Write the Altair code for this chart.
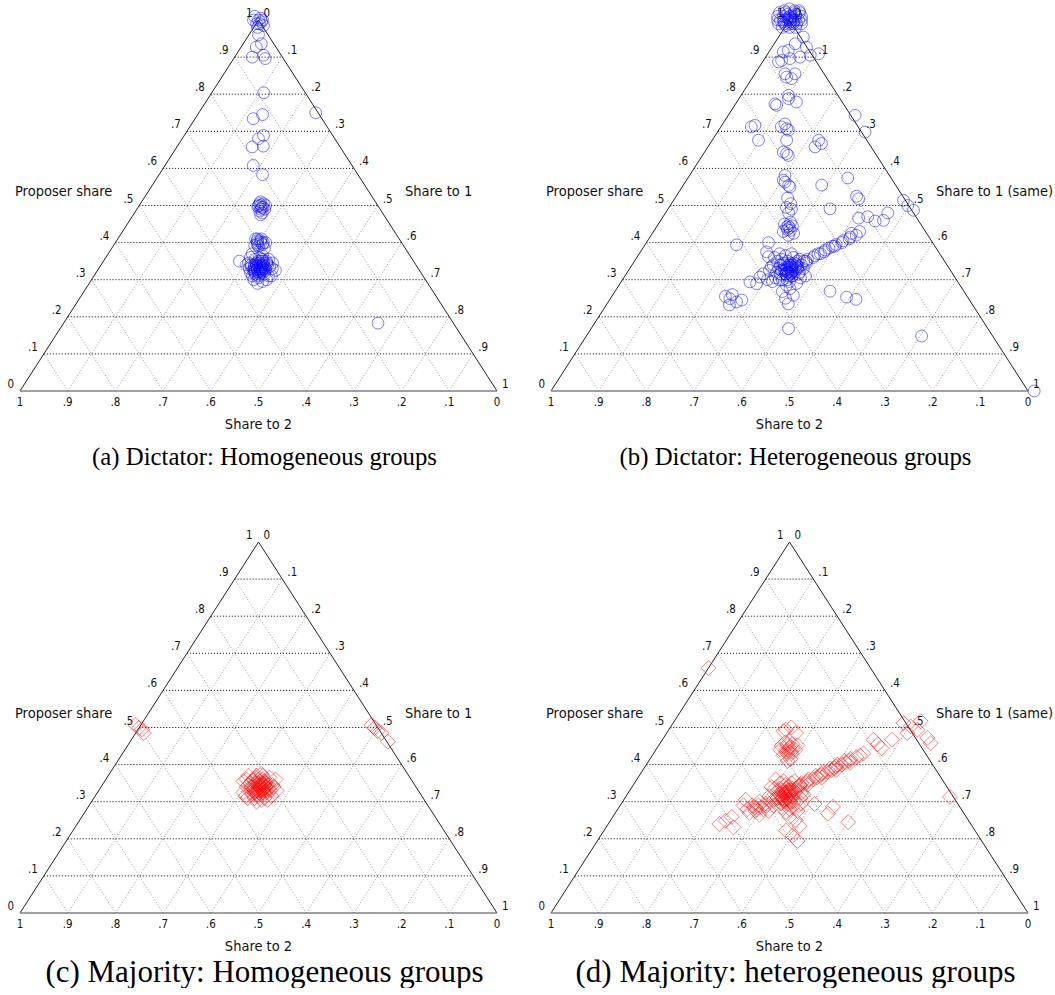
import altair as alt
import pandas as pd

# ---------------- values ----------------
STEPS = [0.1, 0.2, 0.3, 0.4, 0.5, 0.6, 0.7, 0.8, 0.9]
LABEL_VALUES = [0.0, 0.1, 0.2, 0.3, 0.4, 0.5, 0.6, 0.7, 0.8, 0.9, 1.0]
LABEL_TEXT = ["0", ".1", ".2", ".3", ".4", ".5", ".6", ".7", ".8", ".9", "1"]

LEFT_TITLE = "Proposer share"
BOTTOM_TITLE = "Share to 2"
RIGHT_TITLES = ["Share to 1", "Share to 1 (same)", "Share to 1", "Share to 1 (same)"]
CAPTIONS = [
    "(a) Dictator: Homogeneous groups",
    "(b) Dictator: Heterogeneous groups",
    "(c) Majority: Homogeneous groups",
    "(d) Majority: heterogeneous groups",
]

# (proposer share, share to 1) for every observation
dictator_homog = [
    (1.01, -0.013), (1.0, 0.0), (1.0, -0.0105), (0.995, 0.009), (0.99, 0.001), (0.985, 0.018),
    (1.005, 0.002), (0.98, 0.008), (0.99, 0.007), (1.0, 0.0084),
    (0.96, 0.02), (0.936, 0.038), (0.927, 0.032), (0.90, 0.037), (0.905, 0.058), (0.896, 0.066),
    (0.804, 0.109), (0.745, 0.136), (0.734, 0.122), (0.689, 0.166), (0.68, 0.16), (0.658, 0.158),
    (0.66, 0.18), (0.608, 0.185), (0.583, 0.217), (0.75, 0.245), (0.183, 0.659),
    (0.51, 0.249), (0.505, 0.258), (0.50, 0.25), (0.495, 0.259), (0.49, 0.268), (0.485, 0.26),
    (0.48, 0.268), (0.475, 0.267), (0.50, 0.265), (0.497, 0.25),
    (0.50, 0.255), (0.495, 0.262), (0.505, 0.25), (0.49, 0.26),
    (0.41, 0.289), (0.405, 0.302), (0.40, 0.298), (0.395, 0.311), (0.40, 0.315), (0.39, 0.305),
    (0.41, 0.301), (0.385, 0.32), (0.392, 0.296),
    (0.40, 0.305), (0.405, 0.295), (0.395, 0.30), (0.41, 0.293), (0.40, 0.31),
    (0.35, 0.285), (0.345, 0.3065), (0.34, 0.315), (0.335, 0.324), (0.33, 0.333), (0.34, 0.334),
    (0.345, 0.338), (0.35, 0.342), (0.335, 0.356), (0.33, 0.364), (0.325, 0.373), (0.32, 0.323),
    (0.315, 0.336), (0.32, 0.346), (0.325, 0.352), (0.31, 0.366), (0.305, 0.3475), (0.30, 0.34),
    (0.295, 0.361), (0.29, 0.353), (0.355, 0.316), (0.36, 0.322), (0.365, 0.326), (0.37, 0.302),
    (0.355, 0.344), (0.35, 0.325), (0.345, 0.323), (0.34, 0.305), (0.33, 0.316), (0.325, 0.327),
    (0.32, 0.34), (0.335, 0.345), (0.34, 0.349), (0.33, 0.341), (0.325, 0.34), (0.315, 0.355),
    (0.31, 0.332), (0.31, 0.372), (0.345, 0.357), (0.36, 0.303), (0.30, 0.367), (0.34, 0.322),
    (0.33, 0.35), (0.335, 0.318), (0.35, 0.331),
    (0.335, 0.335), (0.34, 0.34), (0.33, 0.338), (0.325, 0.335), (0.345, 0.33), (0.335, 0.328),
    (0.32, 0.332), (0.33, 0.345), (0.34, 0.326), (0.325, 0.345), (0.315, 0.345), (0.35, 0.335),
    (0.33, 0.326), (0.34, 0.338), (0.325, 0.33), (0.335, 0.34), (0.32, 0.35), (0.345, 0.345),
    (0.31, 0.345), (0.355, 0.33),
]

dictator_heter = [
    (1.02, -0.031), (1.025, -0.023), (1.03, -0.015), (1.025, -0.002), (1.02, 0.011), (1.01, -0.03),
    (1.01, -0.018), (1.01, -0.005), (1.01, 0.008), (1.01, 0.02), (1.0, -0.019), (1.0, -0.0063),
    (1.0, 0.0063), (1.0, 0.019), (0.99, -0.018), (0.99, -0.0055), (0.99, 0.007), (0.99, 0.02),
    (0.99, 0.03), (0.98, -0.005), (0.98, 0.01), (0.98, 0.023), (1.0, 0.0), (1.015, -0.012),
    (0.995, 0.011),
    (1.0, -0.012), (1.005, 0.0), (1.0, 0.012), (0.995, -0.01), (1.01, 0.0), (1.02, 0.0),
    (0.995, 0.004), (1.005, -0.006), (1.015, 0.005), (0.99, 0.013), (1.02, -0.018), (1.0, 0.025),
    (1.0, -0.025), (1.025, 0.008), (0.985, 0.0),
    (0.954, 0.052), (0.936, 0.044), (0.918, 0.0385), (0.914, 0.03), (0.891, 0.038), (0.896, 0.053),
    (0.90, 0.072), (0.905, 0.091), (0.909, 0.1065), (0.927, 0.072), (0.887, 0.0335), (0.855, 0.063),
    (0.855, 0.084), (0.842, 0.083), (0.846, 0.071), (0.797, 0.0995), (0.788, 0.104), (0.779, 0.125),
    (0.774, 0.0825), (0.77, 0.088), (0.72, 0.1305), (0.707, 0.1405), (0.712, 0.127), (0.703, 0.1465),
    (0.712, 0.064), (0.716, 0.0695), (0.676, 0.097), (0.676, 0.156), (0.644, 0.165), (0.635, 0.18),
    (0.64, 0.174), (0.676, 0.223), (0.667, 0.2335), (0.658, 0.2245), (0.743, 0.266), (0.698, 0.3095),
    (0.574, 0.335), (0.518, 0.386), (0.514, 0.482), (0.581, 0.2), (0.568, 0.203), (0.554, 0.221),
    (0.563, 0.209), (0.55, 0.226), (0.555, 0.29),
    (0.52, 0.236), (0.505, 0.25), (0.495, 0.246), (0.49, 0.259), (0.48, 0.258),
    (0.442, 0.273), (0.433, 0.285), (0.42, 0.288), (0.45, 0.2645), (0.445, 0.2835), (0.43, 0.272),
    (0.425, 0.296), (0.455, 0.2745), (0.44, 0.28), (0.435, 0.278), (0.445, 0.275),
    (0.491, 0.3395), (0.466, 0.412), (0.458, 0.4505), (0.46, 0.467), (0.487, 0.5165), (0.50, 0.498),
    (0.47, 0.429), (0.48, 0.466), (0.525, 0.378), (0.425, 0.4175), (0.43, 0.432),
    (0.34, 0.345), (0.35, 0.355), (0.355, 0.36), (0.36, 0.37), (0.365, 0.37), (0.37, 0.375),
    (0.375, 0.385), (0.38, 0.385), (0.385, 0.39), (0.39, 0.40), (0.395, 0.40), (0.40, 0.41),
    (0.405, 0.41), (0.41, 0.42), (0.415, 0.42), (0.42, 0.43), (0.35, 0.36), (0.37, 0.38),
    (0.39, 0.395),
    (0.36, 0.2885), (0.355, 0.306), (0.35, 0.321), (0.345, 0.338), (0.34, 0.355), (0.335, 0.2945),
    (0.33, 0.312), (0.325, 0.327), (0.32, 0.344), (0.315, 0.3615), (0.31, 0.3786), (0.305, 0.318),
    (0.30, 0.335), (0.295, 0.3525), (0.29, 0.37), (0.285, 0.351), (0.36, 0.328), (0.355, 0.3435),
    (0.35, 0.30), (0.345, 0.315), (0.34, 0.33), (0.335, 0.345), (0.33, 0.364), (0.325, 0.2955),
    (0.32, 0.313), (0.315, 0.334), (0.31, 0.351), (0.305, 0.3705), (0.30, 0.329), (0.295, 0.3168),
    (0.34, 0.311), (0.33, 0.329), (0.325, 0.3455), (0.32, 0.361), (0.345, 0.363), (0.335, 0.3345),
    (0.315, 0.3235), (0.31, 0.341), (0.35, 0.342), (0.365, 0.309), (0.37, 0.319), (0.33, 0.352),
    (0.325, 0.3207), (0.34, 0.296), (0.32, 0.338),
    (0.33, 0.335), (0.335, 0.33), (0.325, 0.34), (0.32, 0.345), (0.34, 0.335), (0.33, 0.34),
    (0.315, 0.345), (0.325, 0.33), (0.335, 0.338), (0.32, 0.335), (0.31, 0.35), (0.345, 0.33),
    (0.33, 0.325), (0.34, 0.32), (0.315, 0.335), (0.30, 0.345), (0.325, 0.35), (0.335, 0.35),
    (0.276, 0.363), (0.258, 0.379), (0.235, 0.38), (0.25, 0.3666), (0.268, 0.351), (0.168, 0.414),
    (0.269, 0.4505), (0.253, 0.493), (0.247, 0.516), (0.148, 0.703), (0.0, 1.013),
    (0.249, 0.2505), (0.24, 0.269), (0.255, 0.2381), (0.26, 0.25), (0.245, 0.2775), (0.232, 0.258),
    (0.294, 0.27), (0.289, 0.2865), (0.307, 0.2845), (0.316, 0.2874), (0.30, 0.304),
    (0.394, 0.192), (0.40, 0.256), (0.375, 0.2645), (0.362, 0.275), (0.37, 0.294),
]

majority_homog = [
    (0.507, -0.012), (0.485, 0.017), (0.499, 0.0), (0.495, 0.008),
    (0.499, 0.494), (0.485, 0.515), (0.462, 0.54), (0.507, 0.484), (0.49, 0.505),
    (0.37, 0.294), (0.365, 0.3115), (0.37, 0.3234), (0.365, 0.3405), (0.36, 0.3557), (0.355, 0.291),
    (0.355, 0.3078), (0.35, 0.325), (0.35, 0.3397), (0.345, 0.3569), (0.34, 0.305), (0.34, 0.3216),
    (0.335, 0.3388), (0.335, 0.3535), (0.33, 0.3728), (0.325, 0.306), (0.325, 0.3207), (0.32, 0.338),
    (0.32, 0.3526), (0.315, 0.3695), (0.31, 0.322), (0.31, 0.3366), (0.305, 0.3535), (0.305, 0.3665),
    (0.36, 0.295), (0.345, 0.3065), (0.33, 0.3224), (0.33, 0.337), (0.345, 0.3315), (0.36, 0.3284),
    (0.36, 0.3095), (0.315, 0.3155), (0.325, 0.3543), (0.34, 0.3615), (0.35, 0.319), (0.32, 0.3274),
    (0.315, 0.3425), (0.355, 0.3393), (0.37, 0.311), (0.34, 0.3447), (0.33, 0.36), (0.35, 0.3082),
    (0.31, 0.3576), (0.375, 0.3185), (0.30, 0.346),
    (0.34, 0.33), (0.335, 0.333), (0.33, 0.335), (0.345, 0.33), (0.34, 0.335), (0.325, 0.338),
    (0.35, 0.33), (0.335, 0.325), (0.33, 0.345), (0.345, 0.34), (0.32, 0.345), (0.355, 0.325),
    (0.34, 0.345), (0.325, 0.33), (0.33, 0.328), (0.35, 0.335), (0.335, 0.342), (0.345, 0.325),
    (0.32, 0.335), (0.36, 0.32), (0.355, 0.335), (0.33, 0.352), (0.34, 0.315), (0.325, 0.348),
    (0.345, 0.348),
]

majority_heter = [
    (0.66, 0.0),
    (0.494, 0.2454), (0.485, 0.271), (0.50, 0.254), (0.49, 0.2424),
    (0.46, 0.2616), (0.455, 0.2785), (0.45, 0.258), (0.445, 0.2775), (0.44, 0.2926), (0.435, 0.2765),
    (0.43, 0.289), (0.425, 0.275), (0.415, 0.2945), (0.41, 0.291), (0.44, 0.261), (0.452, 0.2908),
    (0.445, 0.283), (0.44, 0.275), (0.45, 0.27), (0.435, 0.285), (0.455, 0.268), (0.43, 0.28),
    (0.32, 0.33), (0.325, 0.335), (0.33, 0.34), (0.335, 0.345), (0.34, 0.35), (0.345, 0.35),
    (0.35, 0.36), (0.355, 0.36), (0.36, 0.37), (0.365, 0.375), (0.37, 0.38), (0.375, 0.38),
    (0.38, 0.39), (0.385, 0.395), (0.39, 0.40), (0.395, 0.40), (0.40, 0.41), (0.405, 0.415),
    (0.41, 0.42), (0.415, 0.42), (0.42, 0.43), (0.425, 0.435), (0.43, 0.44), (0.35, 0.35),
    (0.36, 0.36), (0.37, 0.37), (0.38, 0.38), (0.39, 0.39), (0.40, 0.40), (0.41, 0.41),
    (0.345, 0.365), (0.365, 0.385), (0.385, 0.405), (0.405, 0.425),
    (0.467, 0.4425), (0.444, 0.471), (0.467, 0.4815), (0.455, 0.4575),
    (0.512, 0.483), (0.503, 0.5025), (0.494, 0.521), (0.485, 0.5045), (0.472, 0.553), (0.458, 0.567),
    (0.517, 0.5165), (0.313, 0.68),
    (0.29, 0.277), (0.30, 0.287), (0.285, 0.2985), (0.28, 0.272), (0.275, 0.291), (0.27, 0.281),
    (0.295, 0.3025), (0.305, 0.2555), (0.265, 0.3045), (0.28, 0.3054), (0.29, 0.2584), (0.275, 0.3185),
    (0.285, 0.285), (0.28, 0.29), (0.29, 0.29),
    (0.249, 0.2415), (0.259, 0.2495), (0.231, 0.267), (0.24, 0.233),
    (0.272, 0.3566), (0.259, 0.3705), (0.235, 0.4035), (0.222, 0.3816), (0.208, 0.402), (0.194, 0.4198),
    (0.25, 0.3876),
    (0.294, 0.4055), (0.286, 0.448), (0.268, 0.447), (0.245, 0.5005),
    (0.36, 0.291), (0.355, 0.31), (0.35, 0.329), (0.345, 0.3485), (0.34, 0.292), (0.335, 0.3115),
    (0.33, 0.331), (0.325, 0.35), (0.32, 0.369), (0.315, 0.3005), (0.31, 0.32), (0.305, 0.339),
    (0.30, 0.3584), (0.295, 0.3775), (0.29, 0.3214), (0.285, 0.3407), (0.28, 0.36), (0.275, 0.3793),
    (0.35, 0.306), (0.34, 0.328), (0.33, 0.3497), (0.32, 0.3085), (0.31, 0.3303), (0.30, 0.352),
    (0.29, 0.374), (0.325, 0.327), (0.315, 0.3485), (0.345, 0.3191), (0.335, 0.3385), (0.305, 0.3139),
    (0.295, 0.3465), (0.355, 0.333), (0.32, 0.34), (0.31, 0.368), (0.285, 0.3635), (0.335, 0.301),
    (0.30, 0.329), (0.325, 0.3625), (0.29, 0.305),
    (0.32, 0.33), (0.315, 0.335), (0.31, 0.34), (0.325, 0.325), (0.32, 0.34), (0.305, 0.345),
    (0.315, 0.325), (0.33, 0.32), (0.31, 0.33), (0.30, 0.34), (0.325, 0.33), (0.32, 0.32),
    (0.315, 0.345), (0.31, 0.32), (0.335, 0.325), (0.305, 0.335), (0.30, 0.35), (0.33, 0.335),
    (0.295, 0.335), (0.325, 0.34),
]

# ---------------- layout / style ----------------
W, H = 477, 371
XS = alt.Scale(domain=[0, 1], nice=False, zero=False)
YS = alt.Scale(domain=[0, 1], nice=False, zero=False)
SANS = "DejaVu Sans Condensed, Liberation Sans, sans-serif"
SERIF = "Liberation Serif"

TERN_X = "datum.s1 + datum.p / 2"


def tern_xy(chart):
    return chart.transform_calculate(x=TERN_X, y="datum.p")


# grid lines, in ternary coordinates (p, s1) -> (p2, s1b)
horiz = pd.DataFrame({"p": STEPS, "s1": [0.0] * 9, "p2": STEPS, "s1b": [1 - k for k in STEPS]})
diag = pd.DataFrame(
    {"p": [0.0] * 18,
     "s1": STEPS + [1 - k for k in STEPS],
     "p2": [1 - k for k in STEPS] * 2,
     "s1b": STEPS + [0.0] * 9}
)
edges = pd.DataFrame({"p": [0.0, 1.0], "s1": [0.0, 0.0], "p2": [1.0, 0.0], "s1b": [0.0, 1.0]})
base = pd.DataFrame({"p": [0.0], "s1": [0.0], "p2": [0.0], "s1b": [1.0]})

lab_left = pd.DataFrame({"p": LABEL_VALUES, "s1": [0.0] * 11, "t": LABEL_TEXT})
lab_right = pd.DataFrame({"p": [1 - v for v in LABEL_VALUES], "s1": LABEL_VALUES, "t": LABEL_TEXT})
lab_bottom = pd.DataFrame({"p": [0.0] * 11, "s1": [1 - v for v in LABEL_VALUES], "t": LABEL_TEXT})


def rule_layer(df, **kw):
    return alt.Chart(df).mark_rule(**kw).transform_calculate(
        x=TERN_X, y="datum.p", x2="datum.s1b + datum.p2 / 2", y2="datum.p2"
    ).encode(
        x=alt.X("x:Q", scale=XS, axis=None),
        y=alt.Y("y:Q", scale=YS, axis=None),
        x2="x2:Q",
        y2="y2:Q",
    )


def label_layer(df, **kw):
    return tern_xy(alt.Chart(df).mark_text(font=SANS, fontSize=11.5, color="#111", **kw)).encode(
        x=alt.X("x:Q", scale=XS, axis=None),
        y=alt.Y("y:Q", scale=YS, axis=None),
        text="t:N",
    )


def fixed_text(txt, xpx, ypx, **kw):
    return alt.Chart(pd.DataFrame({"t": [txt]})).mark_text(**kw).encode(
        x=alt.value(xpx), y=alt.value(ypx), text="t:N"
    )


def panel(points, shape, color, size, right_title, caption, cap_size, cap_y):
    pts = pd.DataFrame(points, columns=["p", "s1"])
    layers = [
        rule_layer(diag, stroke="#9a9a9a", strokeDash=[1, 2], strokeWidth=1),
        rule_layer(horiz, stroke="#000000", strokeDash=[1, 2], strokeWidth=1),
        rule_layer(edges, stroke="#222222", strokeWidth=1),
        rule_layer(base, stroke="#808080", strokeWidth=1.6),
        label_layer(lab_left, align="right", baseline="middle", dx=-6, dy=-6),
        label_layer(lab_right, align="left", baseline="middle", dx=5, dy=-6),
        label_layer(lab_bottom, align="center", baseline="middle", dy=12),
        fixed_text(LEFT_TITLE, -5, 175.5, font=SANS, fontSize=14.5, align="left", baseline="alphabetic", color="#111"),
        fixed_text(right_title, 385, 175.5, font=SANS, fontSize=14.5, align="left", baseline="alphabetic", color="#111"),
        fixed_text(BOTTOM_TITLE, W / 2, 409, font=SANS, fontSize=14.5, align="center", baseline="alphabetic", color="#111"),
        fixed_text(caption, W / 2 + 6, cap_y, font=SERIF, fontSize=cap_size, align="center", baseline="alphabetic", color="#000"),
        tern_xy(alt.Chart(pts).mark_point(
            shape=shape, size=size, filled=False, stroke=color, strokeOpacity=0.5, strokeWidth=1, opacity=1
        )).encode(
            x=alt.X("x:Q", scale=XS, axis=None),
            y=alt.Y("y:Q", scale=YS, axis=None),
        ),
    ]
    return alt.layer(*layers).properties(width=W, height=H)


pa = panel(dictator_homog, "circle", "#0000ff", 140, RIGHT_TITLES[0], CAPTIONS[0], 24.8, 444.5)
pb = panel(dictator_heter, "circle", "#0000ff", 140, RIGHT_TITLES[1], CAPTIONS[1], 24.8, 444.5)
pc = panel(majority_homog, "diamond", "#ff0000", 225, RIGHT_TITLES[2], CAPTIONS[2], 31, 440)
pd_ = panel(majority_heter, "diamond", "#ff0000", 225, RIGHT_TITLES[3], CAPTIONS[3], 31, 440)

chart = alt.concat(
    pa, pb, pc, pd_, columns=2, spacing={"row": 151, "column": 54}, bounds="flush"
).properties(
    padding={"left": 7, "top": 0, "right": 0, "bottom": 0}
).configure(
    background="white",
    view=alt.ViewConfig(stroke="transparent", strokeWidth=0),
)

chart.save("out.html", embed_options={"renderer": "svg", "actions": False})
